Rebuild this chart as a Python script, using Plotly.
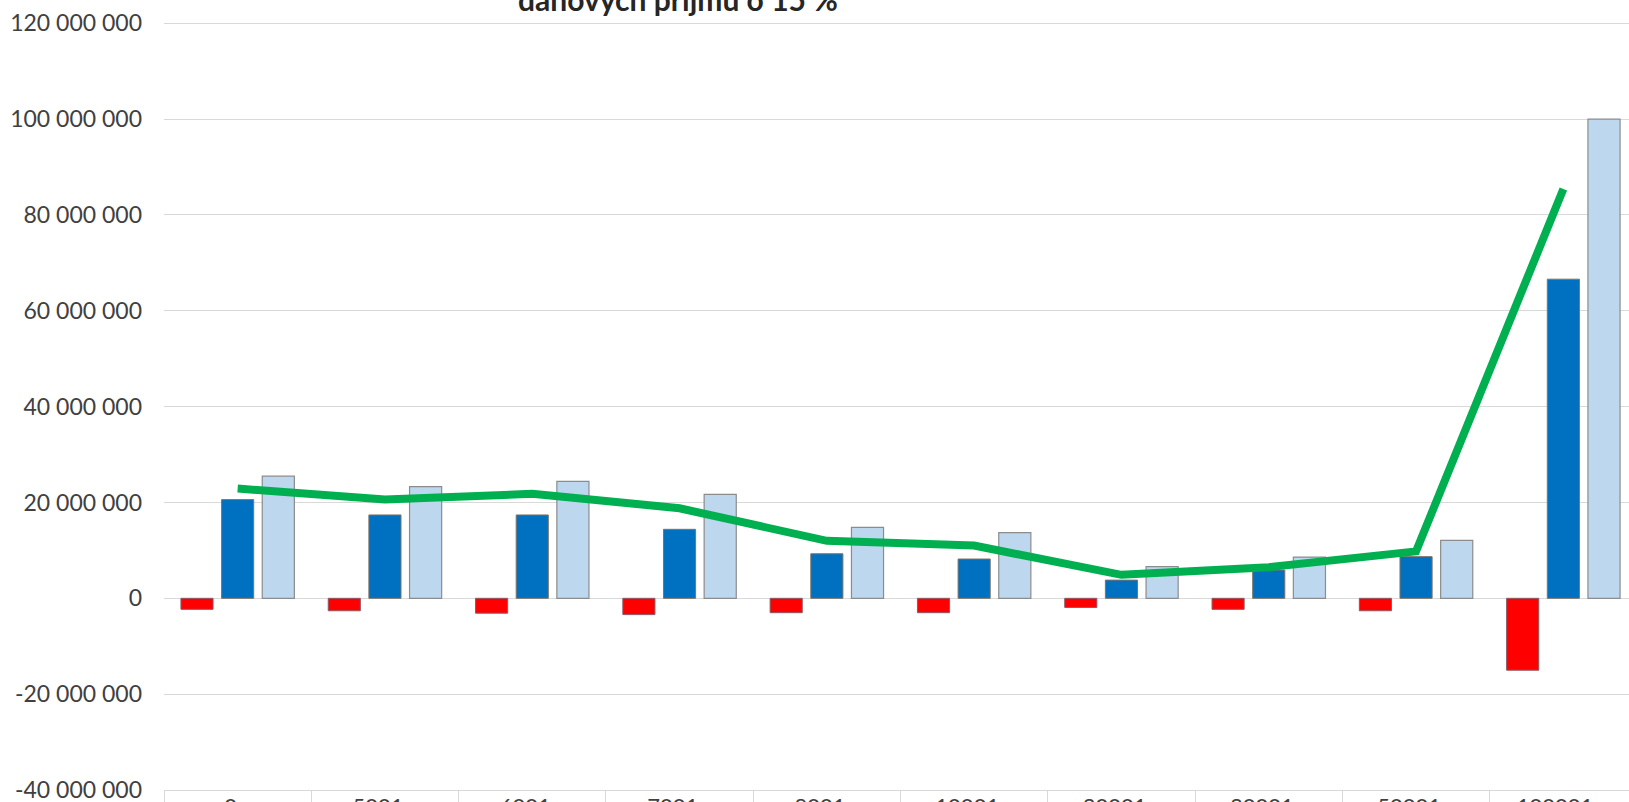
import plotly.graph_objects as go

categories = ["0 -<br>5000", "5001 -<br>6000", "6001 -<br>7000", "7001 -<br>8000", "8001 -<br>10000",
              "10001 -<br>20000", "20001 -<br>30000", "30001 -<br>50000", "50001 -<br>100000",
              "100001 a<br>více"]
red_vals = [-2.3e6, -2.6e6, -3.1e6, -3.4e6, -3.0e6, -3.0e6, -1.9e6, -2.3e6, -2.6e6, -15.0e6]
blue_vals = [20.6e6, 17.4e6, 17.4e6, 14.4e6, 9.3e6, 8.2e6, 3.8e6, 5.9e6, 8.7e6, 66.6e6]
light_vals = [25.5e6, 23.3e6, 24.4e6, 21.7e6, 14.8e6, 13.7e6, 6.6e6, 8.6e6, 12.1e6, 100.0e6]
green_vals = [22.9e6, 20.6e6, 21.8e6, 18.8e6, 12.0e6, 11.0e6, 4.9e6, 6.5e6, 9.8e6, 85.4e6]

y_tickvals = [-40e6, -20e6, 0, 20e6, 40e6, 60e6, 80e6, 100e6, 120e6]
y_ticktext = ["-40 000 000", "-20 000 000", "0", "20 000 000", "40 000 000",
              "60 000 000", "80 000 000", "100 000 000", "120 000 000"]
title_text = "daňových příjmů o 15 %"

FONT = "Lato"
fig = go.Figure()
fig.add_trace(go.Bar(x=categories, y=red_vals, name="Řada 1",
                     marker=dict(color="#FF0000", line=dict(color="#8A5A66", width=1))))
fig.add_trace(go.Bar(x=categories, y=blue_vals, name="Řada 2",
                     marker=dict(color="#0070C0", line=dict(color="#7D7468", width=1))))
fig.add_trace(go.Bar(x=categories, y=light_vals, name="Řada 3",
                     marker=dict(color="#BDD7EE", line=dict(color="#8C8C8C", width=1.2))))
fig.add_trace(go.Scatter(x=categories, y=green_vals, name="Řada 4", mode="lines",
                         line=dict(color="#00B050", width=8)))

fig.update_layout(
    width=1629, height=802,
    margin=dict(l=164, r=0, t=0, b=12, autoexpand=False),
    paper_bgcolor="white", plot_bgcolor="white",
    barmode="group", bargap=0.172, bargroupgap=0.21,
    showlegend=False,
    font=dict(family=FONT, color="#404040", size=22),
    annotations=[dict(text="<b>" + title_text + "</b>", xref="paper", yref="paper",
                      x=(678 - 164) / 1465, y=1, xanchor="center", yanchor="middle",
                      yshift=1, showarrow=False,
                      font=dict(family=FONT, size=30, color="#262626"))],
)
fig.update_xaxes(range=[-0.5, -0.5 + 1465 / 147.3], showline=True, linecolor="#D9D9D9",
                 linewidth=1, ticks="outside", tickson="boundaries", ticklen=12,
                 tickcolor="#D9D9D9", showgrid=False, ticklabelstandoff=-3,
                 tickangle=0, automargin=False, ticklabeloverflow="allow",
                 tickfont=dict(family=FONT, size=22, color="#404040"))
fig.update_yaxes(range=[-40e6, 124.86e6], tickvals=y_tickvals, ticktext=y_ticktext,
                 showgrid=True, gridcolor="#D9D9D9", gridwidth=1, zeroline=False,
                 showline=False, ticks="", ticklabelstandoff=21, automargin=False,
                 ticklabeloverflow="allow",
                 tickfont=dict(family=FONT, size=23, color="#404040"))

fig.write_html("out.html", config={"displayModeBar": False},
               post_script="document.body.style.margin='0';document.body.style.overflow='hidden';")
